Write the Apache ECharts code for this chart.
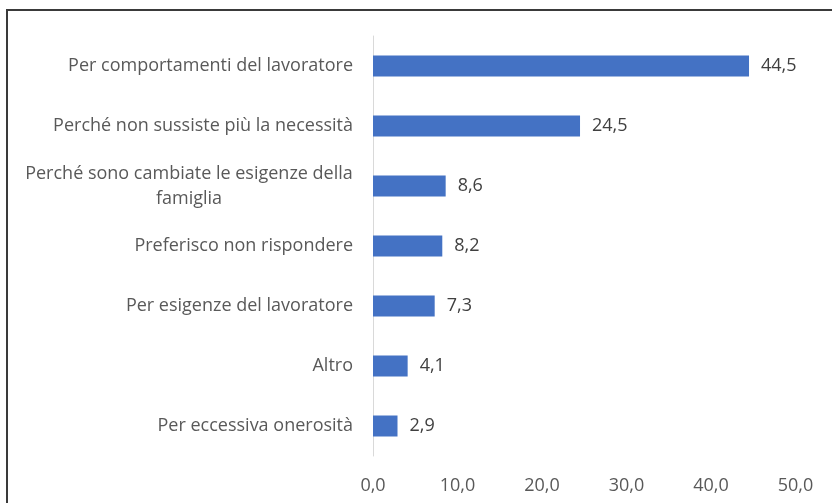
<!DOCTYPE html>
<html><head><meta charset="utf-8">
<script src="https://cdn.jsdelivr.net/npm/echarts@6/dist/echarts.min.js"></script>
<style>html,body{margin:0;padding:0;background:#fff}#c{width:832px;height:503px}</style>
</head><body><div id="c"></div>
<script>
const categories = [
  "Per comportamenti del lavoratore",
  "Perché non sussiste più la necessità",
  "Perché sono cambiate le esigenze della famiglia",
  "Preferisco non rispondere",
  "Per esigenze del lavoratore",
  "Altro",
  "Per eccessiva onerosità"
];
const values = [44.5, 24.5, 8.6, 8.2, 7.3, 4.1, 2.9];
const xTicks = [0, 10, 20, 30, 40, 50];
const FONT = "Open Sans";
const FSIZE = 18;
const fmt = v => Number(v).toFixed(1).replace('.', ',');
const ctx = document.createElement('canvas').getContext('2d');
ctx.font = FSIZE + 'px "' + FONT + '"';
const MAXW = 345;
let wrapW = 0;
function wrapLabel(text) {
  if (ctx.measureText(text).width <= MAXW) return text;
  const words = text.split(' ');
  const lines = [];
  let cur = '';
  for (const w of words) {
    const t = cur ? cur + ' ' + w : w;
    if (ctx.measureText(t).width > MAXW && cur) { lines.push(cur); cur = w; } else cur = t;
  }
  if (cur) lines.push(cur);
  wrapW = Math.max(wrapW, Math.ceil(Math.max(...lines.map(l => ctx.measureText(l).width))));
  return lines.map(l => '{c|' + l + '}').join('\n');
}
categories.forEach(wrapLabel);
const chart = echarts.init(document.getElementById('c'), null, {renderer: 'canvas'});
chart.setOption({
  animation: false,
  backgroundColor: '#fff',
  graphic: [
    {type: 'rect', shape: {x: 7, y: 10, width: 900, height: 600}, style: {fill: 'none', stroke: '#3a3a3a', lineWidth: 2}, silent: true}
  ],
  grid: {left: 373, right: 36.5, top: 36, bottom: 47, containLabel: false},
  xAxis: {
    type: 'value', min: xTicks[0], max: xTicks[xTicks.length - 1], interval: xTicks[1] - xTicks[0],
    axisLine: {show: false}, axisTick: {show: false}, splitLine: {show: false},
    axisLabel: {formatter: fmt, color: '#595959', fontFamily: FONT, fontSize: FSIZE, margin: 21}
  },
  yAxis: {
    type: 'category', data: categories, inverse: true,
    axisLine: {show: true, lineStyle: {color: '#d9d9d9', width: 1}},
    axisTick: {show: false},
    axisLabel: {
      color: '#595959', fontFamily: FONT, fontSize: FSIZE, margin: 20, lineHeight: 25,
      formatter: wrapLabel,
      rich: {c: {width: wrapW, align: 'center', color: '#595959', fontFamily: FONT, fontSize: FSIZE, lineHeight: 25}}
    }
  },
  series: [{
    type: 'bar', data: values, barWidth: '35%',
    itemStyle: {color: '#4472c4'},
    label: {show: true, position: 'right', distance: 12, formatter: p => fmt(p.value), color: '#404040', fontFamily: FONT, fontSize: FSIZE}
  }]
});
</script></body></html>
